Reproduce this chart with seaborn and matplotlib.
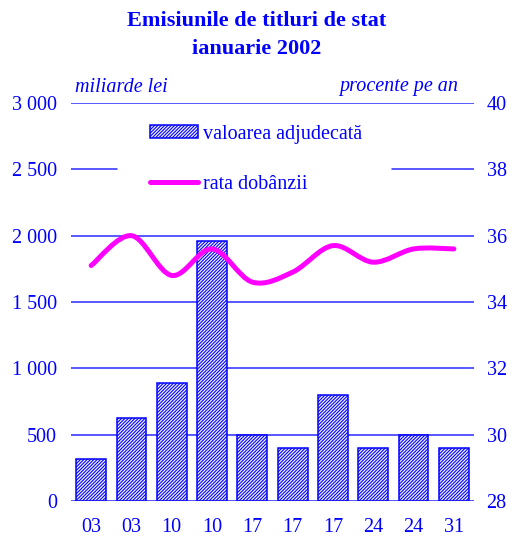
import numpy as np
import pandas as pd
import matplotlib
matplotlib.use("Agg")
import matplotlib.pyplot as plt
import seaborn as sns
from matplotlib.path import Path
from matplotlib.patches import PathPatch, Patch
from matplotlib.lines import Line2D

# Auction dates (day of January 2002) and results
dates = ["03", "03", "10", "10", "17", "17", "17", "24", "24", "31"]
valoarea = [320, 625, 890, 1960, 500, 400, 800, 400, 500, 400]   # miliarde lei
rata = [35.1, 36.0, 34.8, 35.6, 34.6, 34.9, 35.7, 35.2, 35.6, 35.6]  # procente pe an

left_ticks = [0, 500, 1000, 1500, 2000, 2500, 3000]
left_labels = ["0", "500", "1 000", "1 500", "2 000", "2 500", "3 000"]
right_ticks = [28, 30, 32, 34, 36, 38, 40]

BLUE = "#0000ff"
GRID = "#2a2aff"
MAGENTA = "#ff00ff"
FS = 14.5
HATCH = "//////////"

sns.set_style("white")
plt.rcParams["font.family"] = ["Liberation Serif", "DejaVu Serif"]
plt.rcParams["hatch.linewidth"] = 0.8
plt.rcParams["hatch.color"] = BLUE

fig = plt.figure(figsize=(5.14, 5.36), dpi=100)
ax = fig.add_axes([71 / 514, 1 - 501 / 536, 403 / 514, 398 / 536])

df = pd.DataFrame({"idx": np.arange(len(dates)), "valoarea": valoarea})

# horizontal guide lines (the 2500 one is interrupted by the legend)
for t in left_ticks:
    if t == 2500:
        ax.axhline(t, xmin=0, xmax=(117 - 71) / 403, color=GRID, lw=1.1, zorder=0)
        ax.axhline(t, xmin=(392 - 71) / 403, xmax=1, color=GRID, lw=1.1, zorder=0)
    else:
        ax.axhline(t, color=GRID, lw=1.1, zorder=0)

sns.barplot(data=df, x="idx", y="valoarea", ax=ax, color="#f4f4ff",
            width=0.74, edgecolor=BLUE, linewidth=1.1, hatch=HATCH,
            saturation=1, zorder=2)

ax.set_xlim(-0.5, len(dates) - 0.5)
ax.set_ylim(0, 3000)
ax.set_yticks(left_ticks)
ax.set_yticklabels(left_labels)
ax.set_xticks(np.arange(len(dates)))
ax.set_xticklabels(dates)
ax.set_xlabel("")
ax.set_ylabel("")
ax.tick_params(axis="y", length=0, pad=10, labelsize=FS, labelcolor=BLUE)
ax.tick_params(axis="x", length=0, pad=12, labelsize=FS, labelcolor=BLUE)
for s in ax.spines.values():
    s.set_visible(False)

ax2 = ax.twinx()
ax2.set_ylim(28, 40)
ax2.set_yticks(right_ticks)
ax2.tick_params(axis="y", length=0, pad=9, labelsize=FS, labelcolor=BLUE)
for s in ax2.spines.values():
    s.set_visible(False)

# smoothed interest-rate curve as cubic Bezier segments through the data points
xs = np.arange(len(rata), dtype=float)
ys = np.array(rata, dtype=float)
pts = np.column_stack([xs, ys])
ext = np.vstack([pts[0], pts, pts[-1]])
verts = [tuple(pts[0])]
codes = [Path.MOVETO]
for i in range(len(pts) - 1):
    p0, p1, p2, p3 = ext[i], ext[i + 1], ext[i + 2], ext[i + 3]
    c1 = p1 + (p2 - p0) / 6.0
    c2 = p2 - (p3 - p1) / 6.0
    verts += [tuple(c1), tuple(c2), tuple(p2)]
    codes += [Path.CURVE4] * 3
curve = PathPatch(Path(verts, codes), facecolor="none", edgecolor=MAGENTA,
                  lw=3.6, capstyle="round", joinstyle="round", zorder=3)
ax2.add_patch(curve)

handles = [
    Patch(facecolor="#f4f4ff", edgecolor=BLUE, hatch=HATCH, lw=1.1),
    Line2D([0], [0], color=MAGENTA, lw=3.6, solid_capstyle="round"),
]
leg = ax2.legend(handles, ["valoarea adjudecată", "rata dobânzii"],
                 loc="upper left", bbox_to_anchor=((150 - 71) / 403, 1 - (125 - 103) / 398),
                 frameon=False, fontsize=FS, handlelength=2.4, handleheight=0.62,
                 handletextpad=0.25, labelspacing=1.55, borderpad=0, borderaxespad=0)
for t in leg.get_texts():
    t.set_color(BLUE)

fig.text(75 / 514, 1 - 87 / 536, "miliarde lei", color=BLUE, fontsize=FS,
         style="italic", ha="left", va="center")
fig.text(458 / 514, 1 - 87 / 536, "procente pe an", color=BLUE, fontsize=FS,
         style="italic", ha="right", va="center")
fig.text(0.5, 1 - 35 / 536, "Emisiunile de titluri de stat\nianuarie 2002",
         color=BLUE, fontsize=16, fontweight="bold", ha="center", va="center",
         linespacing=1.6)

fig.savefig("out.png", dpi=100)
